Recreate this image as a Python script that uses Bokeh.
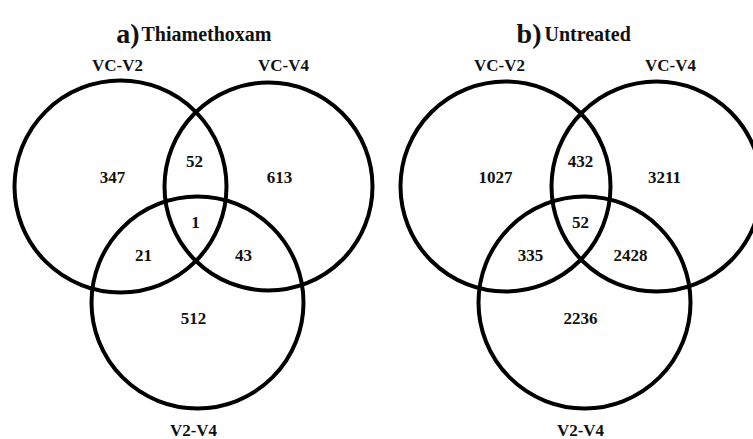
from bokeh.plotting import figure
from bokeh.models import Range1d, ColumnDataSource
from bokeh.core.properties import value
from bokeh.embed import file_html
from bokeh.resources import INLINE

# ---------------- data ----------------
panel_letters = ["a)", "b)"]
panel_titles = ["Thiamethoxam", "Untreated"]
set_labels = ["VC-V2", "VC-V4", "V2-V4"]
# region order: VC-V2 only, VC-V2&VC-V4, VC-V4 only, all three,
#               VC-V2&V2-V4, VC-V4&V2-V4, V2-V4 only
region_names = ["VC-V2", "VC-V2&VC-V4", "VC-V4", "all", "VC-V2&V2-V4", "VC-V4&V2-V4", "V2-V4"]
thiamethoxam_counts = [347, 52, 613, 1, 21, 43, 512]
untreated_counts = [1027, 432, 3211, 52, 335, 2428, 2236]
panel_counts = [thiamethoxam_counts, untreated_counts]

# ---------------- layout (reference pixel space) ----------------
circle_x = [[120, 268, 197], [505, 656, 584]]
circle_y = [[186, 186, 302], [186, 186, 302]]
circle_r = [[106, 104, 106], [105, 105, 106]]
region_x = [[112, 194, 279, 195, 143, 243, 193], [495, 580, 664, 580, 530, 630, 580]]
region_y = [177, 161, 177, 222, 255, 255, 318]
label_x = [[117, 283, 193], [499, 670, 580]]
label_y = [65, 65, 430]
letter_x = [139, 541]
title_x = [141, 544]
title_y = 33

FONT = value("Liberation Serif")

p = figure(width=753, height=439, output_backend="svg", toolbar_location=None,
           x_range=Range1d(0, 753), y_range=Range1d(439, 0),
           min_border=0, background_fill_color="white")
p.axis.visible = False
p.grid.visible = False
p.outline_line_color = None

for k in range(2):
    cs = ColumnDataSource(dict(x=circle_x[k], y=circle_y[k],
                               w=[2 * r for r in circle_r[k]]))
    p.ellipse(x="x", y="y", width="w", height="w", source=cs,
              fill_color=None, line_color="black", line_width=4)

    rs = ColumnDataSource(dict(x=region_x[k], y=region_y,
                               t=[str(c) for c in panel_counts[k]]))
    p.text(x="x", y="y", text="t", source=rs, text_font=FONT,
           text_font_style="bold", text_font_size="17px",
           text_align="center", text_baseline="middle", text_color="#111111")

    ls = ColumnDataSource(dict(x=label_x[k], y=label_y, t=set_labels))
    p.text(x="x", y="y", text="t", source=ls, text_font=FONT,
           text_font_style="bold", text_font_size="17px",
           text_align="center", text_baseline="middle", text_color="#111111")

    p.text(x=[letter_x[k]], y=[title_y], text=[panel_letters[k]], text_font=FONT,
           text_font_style="bold", text_font_size="28px",
           text_align="right", text_baseline="alphabetic", text_color="#111111")
    p.text(x=[title_x[k]], y=[title_y], text=[panel_titles[k]], text_font=FONT,
           text_font_style="bold", text_font_size="20px",
           text_align="left", text_baseline="alphabetic", text_color="#111111")

open("out.html", "w").write(file_html(p, INLINE))
